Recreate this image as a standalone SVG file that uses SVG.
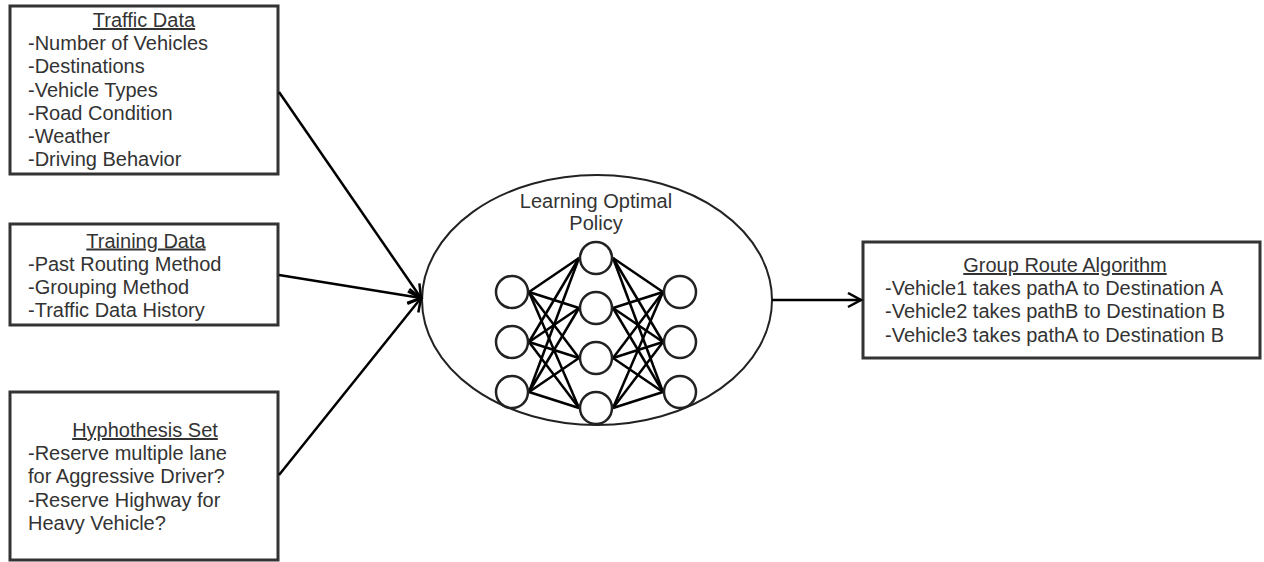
<svg xmlns="http://www.w3.org/2000/svg" width="1264" height="562" viewBox="0 0 1264 562">
<style>
.box{fill:#fff;stroke:#333;stroke-width:3}
.t{font-family:"Liberation Sans",Arial,sans-serif;font-size:20px;fill:#333}
.h{text-anchor:middle;text-decoration:underline}
.c{text-anchor:middle}
.edge{stroke:#000;stroke-width:2.5;fill:none}
.nn{stroke:#000;stroke-width:2.5}
.neuron{fill:#fff;stroke:#222;stroke-width:2.5}
</style>
<defs>
<marker id="arr" markerUnits="userSpaceOnUse" markerWidth="18" markerHeight="18" refX="14" refY="8" orient="auto">
<path d="M1,1 L14,8 L1,15" fill="none" stroke="#000" stroke-width="2.5"/>
</marker>
</defs>
<g id="traffic-data">
<rect class="box" x="10" y="6" width="268" height="168"/>
<text class="t h" x="144" y="27">Traffic Data</text>
<text class="t" x="28" y="50.2">-Number of Vehicles</text>
<text class="t" x="28" y="73.4">-Destinations</text>
<text class="t" x="28" y="96.6">-Vehicle Types</text>
<text class="t" x="28" y="119.8">-Road Condition</text>
<text class="t" x="28" y="143">-Weather</text>
<text class="t" x="28" y="166.2">-Driving Behavior</text>
</g>
<g id="training-data">
<rect class="box" x="10" y="224" width="268" height="101"/>
<text class="t h" x="146" y="247.5">Training Data</text>
<text class="t" x="28" y="270.7">-Past Routing Method</text>
<text class="t" x="28" y="293.9">-Grouping Method</text>
<text class="t" x="28" y="317.1">-Traffic Data History</text>
</g>
<g id="hypothesis-set">
<rect class="box" x="10" y="392" width="268" height="168"/>
<text class="t h" x="145" y="437">Hyphothesis Set</text>
<text class="t" x="28" y="460.2">-Reserve multiple lane</text>
<text class="t" x="28" y="483.4">for Aggressive Driver?</text>
<text class="t" x="28" y="506.6">-Reserve Highway for</text>
<text class="t" x="28" y="529.8">Heavy Vehicle?</text>
</g>
<g id="group-route">
<rect class="box" x="863" y="242" width="397" height="116"/>
<text class="t h" x="1065" y="272">Group Route Algorithm</text>
<text class="t" x="885" y="295.2">-Vehicle1 takes pathA to Destination A</text>
<text class="t" x="885" y="318.4">-Vehicle2 takes pathB to Destination B</text>
<text class="t" x="885" y="341.6">-Vehicle3 takes pathA to Destination B</text>
</g>
<g id="learning-policy">
<ellipse cx="597" cy="300" rx="175" ry="125" fill="#fff" stroke="#222" stroke-width="2"/>
<text class="t c" x="596" y="208">Learning Optimal</text>
<text class="t c" x="596" y="230">Policy</text>
<g id="nn-links">
<line class="nn" x1="529" y1="292" x2="579" y2="258"/>
<line class="nn" x1="529" y1="292" x2="579" y2="308"/>
<line class="nn" x1="529" y1="292" x2="579" y2="358"/>
<line class="nn" x1="529" y1="292" x2="579" y2="408"/>
<line class="nn" x1="529" y1="342" x2="579" y2="258"/>
<line class="nn" x1="529" y1="342" x2="579" y2="308"/>
<line class="nn" x1="529" y1="342" x2="579" y2="358"/>
<line class="nn" x1="529" y1="342" x2="579" y2="408"/>
<line class="nn" x1="529" y1="392" x2="579" y2="258"/>
<line class="nn" x1="529" y1="392" x2="579" y2="308"/>
<line class="nn" x1="529" y1="392" x2="579" y2="358"/>
<line class="nn" x1="529" y1="392" x2="579" y2="408"/>
<line class="nn" x1="613" y1="258" x2="663" y2="292"/>
<line class="nn" x1="613" y1="258" x2="663" y2="342"/>
<line class="nn" x1="613" y1="258" x2="663" y2="392"/>
<line class="nn" x1="613" y1="308" x2="663" y2="292"/>
<line class="nn" x1="613" y1="308" x2="663" y2="342"/>
<line class="nn" x1="613" y1="308" x2="663" y2="392"/>
<line class="nn" x1="613" y1="358" x2="663" y2="292"/>
<line class="nn" x1="613" y1="358" x2="663" y2="342"/>
<line class="nn" x1="613" y1="358" x2="663" y2="392"/>
<line class="nn" x1="613" y1="408" x2="663" y2="292"/>
<line class="nn" x1="613" y1="408" x2="663" y2="342"/>
<line class="nn" x1="613" y1="408" x2="663" y2="392"/>
</g>
<g id="nn-neurons">
<circle class="neuron" cx="512" cy="292" r="16"/>
<circle class="neuron" cx="512" cy="342" r="16"/>
<circle class="neuron" cx="512" cy="392" r="16"/>
<circle class="neuron" cx="596" cy="258" r="16"/>
<circle class="neuron" cx="596" cy="308" r="16"/>
<circle class="neuron" cx="596" cy="358" r="16"/>
<circle class="neuron" cx="596" cy="408" r="16"/>
<circle class="neuron" cx="680" cy="292" r="16"/>
<circle class="neuron" cx="680" cy="342" r="16"/>
<circle class="neuron" cx="680" cy="392" r="16"/>
</g>
</g>
<g id="connectors">
<line class="edge" x1="279" y1="92" x2="421" y2="298" marker-end="url(#arr)"/>
<line class="edge" x1="279" y1="275" x2="421" y2="298" marker-end="url(#arr)"/>
<line class="edge" x1="279" y1="475" x2="421" y2="298" marker-end="url(#arr)"/>
<line class="edge" x1="772" y1="300" x2="861" y2="300" marker-end="url(#arr)"/>
</g>
</svg>
